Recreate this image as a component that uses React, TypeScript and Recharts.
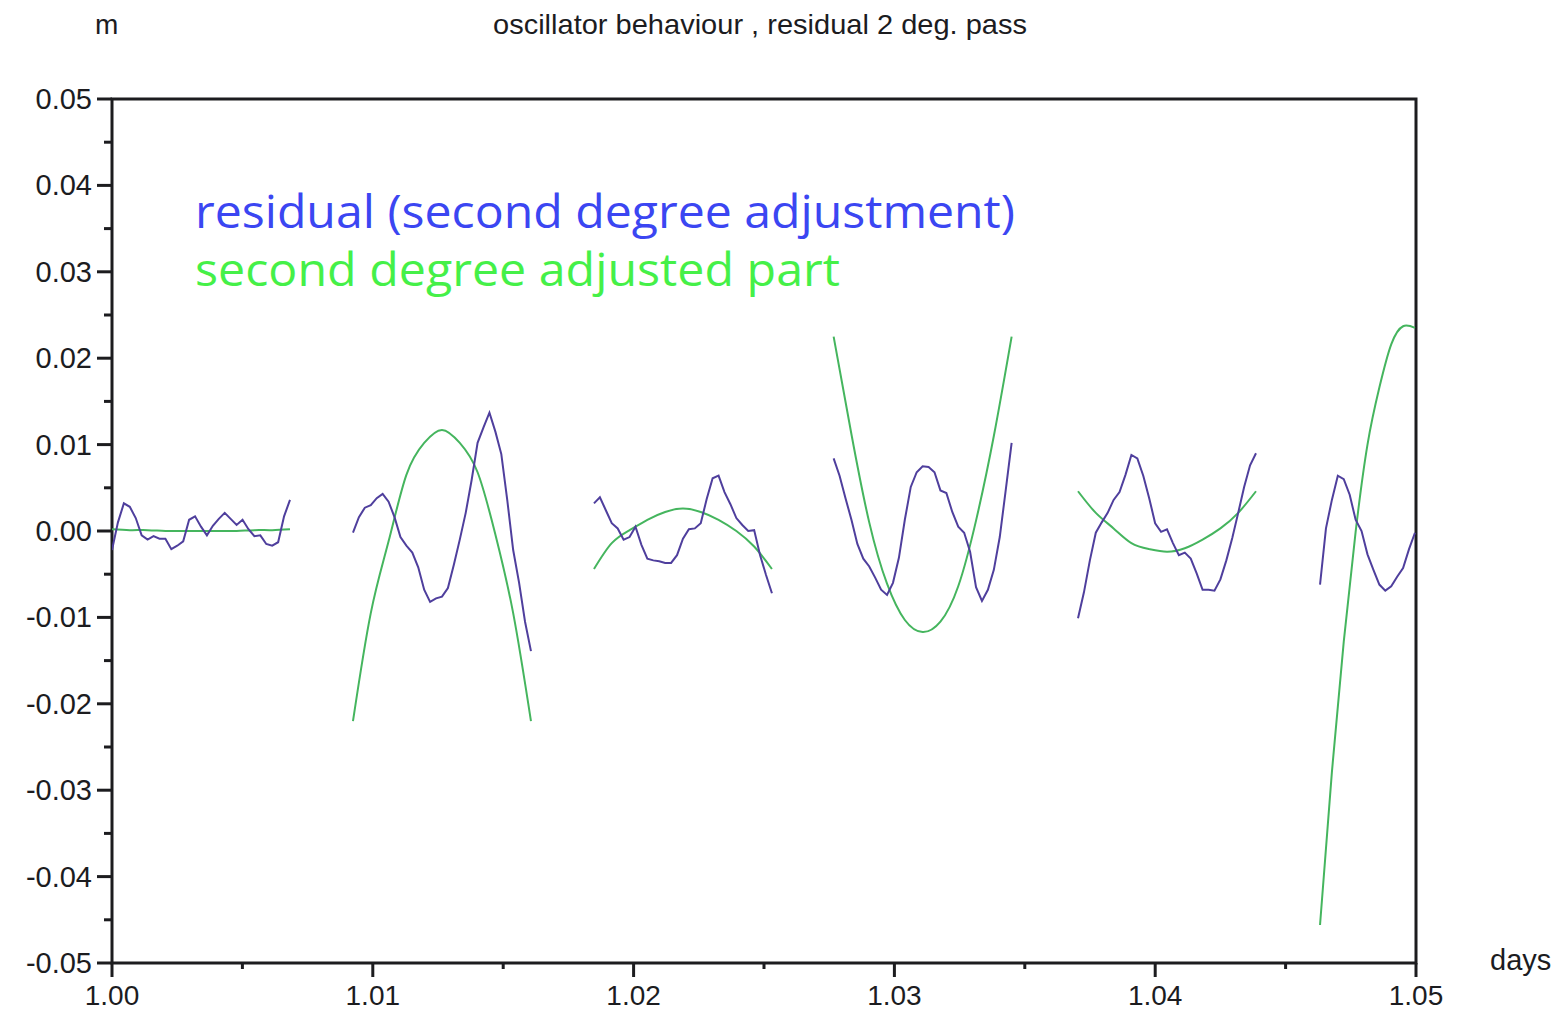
import { LineChart, Line, XAxis, YAxis, ReferenceArea } from "recharts";

// sample times: each pass starts at its own time, samples are evenly spaced
const passStarts = [1.0, 1.00924, 1.01848, 1.02767, 1.03704, 1.04632];
const sampleStep = 0.0002275;

// residual after the 2nd degree adjustment (m)
const residual1 = [-0.0022, 0.001, 0.0032, 0.0028, 0.0015, -0.0005, -0.001, -0.0006, -0.0009, -0.0009, -0.0021, -0.0017, -0.0012, 0.0013, 0.0017, 0.0005, -0.0005, 0.0006, 0.0014, 0.0021, 0.0014, 0.0007, 0.0013, 0.0002, -0.0006, -0.0005, -0.0015, -0.0017, -0.0013, 0.0017, 0.0036];
const residual2 = [-0.0002, 0.0016, 0.0027, 0.003, 0.0038, 0.0043, 0.0034, 0.0016, -0.0007, -0.0017, -0.0025, -0.0042, -0.0068, -0.0082, -0.0078, -0.0076, -0.0066, -0.0039, -0.001, 0.0021, 0.0059, 0.0102, 0.012, 0.0137, 0.0115, 0.0089, 0.0036, -0.0022, -0.006, -0.0105, -0.0139];
const residual3 = [0.0032, 0.0039, 0.0024, 0.0009, 0.0003, -0.001, -0.0007, 0.0005, -0.0016, -0.0032, -0.0034, -0.0035, -0.0037, -0.0037, -0.0028, -0.0009, 0.0002, 0.0003, 0.0009, 0.0037, 0.0061, 0.0064, 0.0045, 0.0031, 0.0015, 0.0007, 0.0, 0.0001, -0.0028, -0.0051, -0.0072];
const residual4 = [0.0084, 0.0064, 0.0038, 0.0013, -0.0015, -0.0032, -0.0041, -0.0054, -0.0068, -0.0074, -0.006, -0.0031, 0.0013, 0.0051, 0.0068, 0.0075, 0.0074, 0.0068, 0.0047, 0.0044, 0.0022, 0.0005, -0.0002, -0.0024, -0.0065, -0.0081, -0.0068, -0.0045, -0.0007, 0.0047, 0.0102];
const residual5 = [-0.0101, -0.0071, -0.0034, -0.0002, 0.001, 0.0021, 0.0036, 0.0045, 0.0065, 0.0088, 0.0084, 0.0064, 0.0038, 0.0009, -0.0001, 0.0002, -0.0014, -0.0028, -0.0025, -0.0032, -0.0049, -0.0068, -0.0068, -0.0069, -0.0056, -0.0034, -0.0008, 0.0021, 0.0051, 0.0076, 0.009];
const residual6 = [-0.0062, 0.0003, 0.0036, 0.0064, 0.006, 0.0042, 0.0013, 0.0, -0.0027, -0.0045, -0.0062, -0.0069, -0.0064, -0.0053, -0.0043, -0.0021, -0.0002];

// the 2nd degree adjusted part, read every few samples
const fitEvery = [3, 3, 3, 3, 3, 2];
const fit1 = [0.0002, 0.0001, 0.0001, 0.0, 0.0, 0.0, 0.0, 0.0, 0.0001, 0.0001, 0.0002];
const fit2 = [-0.022, -0.0095, -0.0012, 0.0065, 0.0102, 0.0117, 0.0102, 0.0068, -0.0004, -0.0095, -0.022];
const fit3 = [-0.0044, -0.0014, 0.0001, 0.0013, 0.0022, 0.0026, 0.0022, 0.0013, 0.0, -0.0018, -0.0044];
const fit4 = [0.0225, 0.0112, 0.0010, -0.0061, -0.0103, -0.0117, -0.0105, -0.0064, 0.0012, 0.0110, 0.0225];
const fit5 = [0.0046, 0.0021, 0.0003, -0.0014, -0.0021, -0.0024, -0.002, -0.001, 0.0003, 0.0021, 0.0046];
const fit6 = [-0.0456, -0.0279, -0.0128, -0.0001, 0.01, 0.0166, 0.0216, 0.0237, 0.0235];

const xTicks = [1.0, 1.005, 1.01, 1.015, 1.02, 1.025, 1.03, 1.035, 1.04, 1.045, 1.05];
const yTicks = [-0.05, -0.045, -0.04, -0.035, -0.03, -0.025, -0.02, -0.015, -0.01, -0.005, 0, 0.005, 0.01, 0.015, 0.02, 0.025, 0.03, 0.035, 0.04, 0.045, 0.05];

const residuals = [residual1, residual2, residual3, residual4, residual5, residual6];
const fits = [fit1, fit2, fit3, fit4, fit5, fit6];

const AXIS = "#1c1c1f";
const PURPLE = "#4f3f9d";
const GREEN = "#45b55e";
const FONT = "'Liberation Sans', Arial, sans-serif";

const residualSeries = residuals.map((vals, s) =>
  vals.map((v, i) => ({ t: passStarts[s] + i * sampleStep, v }))
);
const fitSeries = fits.map((vals, s) =>
  vals.map((v, i) => ({ t: passStarts[s] + i * fitEvery[s] * sampleStep, v }))
);

const isMajor = (v: number) => Math.round(v * 1000) % 10 === 0;

function YTick(props: any) {
  const { x, y, payload } = props;
  const v = payload.value as number;
  const major = isMajor(v);
  return (
    <g>
      <line x1={x - (major ? 15 : 8)} x2={x} y1={y} y2={y} stroke={AXIS} strokeWidth={3} />
      {major && (
        <text x={x - 20} y={y + 10} textAnchor="end" fontFamily={FONT} fontSize={29} fill={AXIS}>
          {v.toFixed(2)}
        </text>
      )}
    </g>
  );
}

function XTick(props: any) {
  const { x, y, payload } = props;
  const v = payload.value as number;
  const major = isMajor(v);
  return (
    <g>
      <line x1={x} x2={x} y1={y} y2={y + (major ? 14 : 6)} stroke={AXIS} strokeWidth={3} />
      {major && (
        <text x={x} y={y + 42} textAnchor="middle" fontFamily={FONT} fontSize={28} fill={AXIS}>
          {v.toFixed(2)}
        </text>
      )}
    </g>
  );
}

export default function App() {
  return (
    <div style={{ position: "absolute", left: 0, top: 0, width: 1555, height: 1013, background: "#fff" }}>
      <LineChart width={1555} height={1013} margin={{ top: 99, right: 139, bottom: 0, left: 0 }}>
        <XAxis
          type="number"
          dataKey="t"
          domain={[1, 1.05]}
          ticks={xTicks}
          interval={0}
          allowDataOverflow
          height={50}
          axisLine={false}
          tickLine={false}
          tickSize={0}
          tickMargin={0}
          tick={<XTick />}
        />
        <YAxis
          type="number"
          domain={[-0.05, 0.05]}
          ticks={yTicks}
          interval={0}
          allowDataOverflow
          width={112}
          axisLine={false}
          tickLine={false}
          tickSize={0}
          tickMargin={0}
          tick={<YTick />}
        />
        <ReferenceArea x1={1} x2={1.05} y1={-0.05} y2={0.05} fill="none" stroke={AXIS} strokeWidth={3} />
        {fitSeries.map((d, i) => (
          <Line
            key={"fit" + i}
            data={d}
            dataKey="v"
            type="natural"
            stroke={GREEN}
            strokeWidth={2}
            dot={false}
            activeDot={false}
            isAnimationActive={false}
          />
        ))}
        {residualSeries.map((d, i) => (
          <Line
            key={"res" + i}
            data={d}
            dataKey="v"
            type="linear"
            stroke={PURPLE}
            strokeWidth={2}
            dot={false}
            activeDot={false}
            isAnimationActive={false}
          />
        ))}
      </LineChart>
      <svg width={1555} height={1013} style={{ position: "absolute", left: 0, top: 0, pointerEvents: "none" }}>
        <text x={95} y={34} fontFamily={FONT} fontSize={28} fill={AXIS}>m</text>
        <text x={493} y={34} fontFamily={FONT} fontSize={28} fill={AXIS} textLength={534} lengthAdjust="spacingAndGlyphs">
          oscillator behaviour , residual 2 deg. pass
        </text>
        <text x={1490} y={970} fontFamily={FONT} fontSize={29} fill={AXIS}>days</text>
        <text x={195} y={228} fontFamily="'Comic Sans MS', 'Open Sans', sans-serif" fontSize={46} fill="#3b46f2" textLength={820} lengthAdjust="spacingAndGlyphs">
          residual (second degree adjustment)
        </text>
        <text x={195} y={286} fontFamily="'Comic Sans MS', 'Open Sans', sans-serif" fontSize={46} fill="#45f048" textLength={645} lengthAdjust="spacingAndGlyphs">
          second degree adjusted part
        </text>
      </svg>
    </div>
  );
}
